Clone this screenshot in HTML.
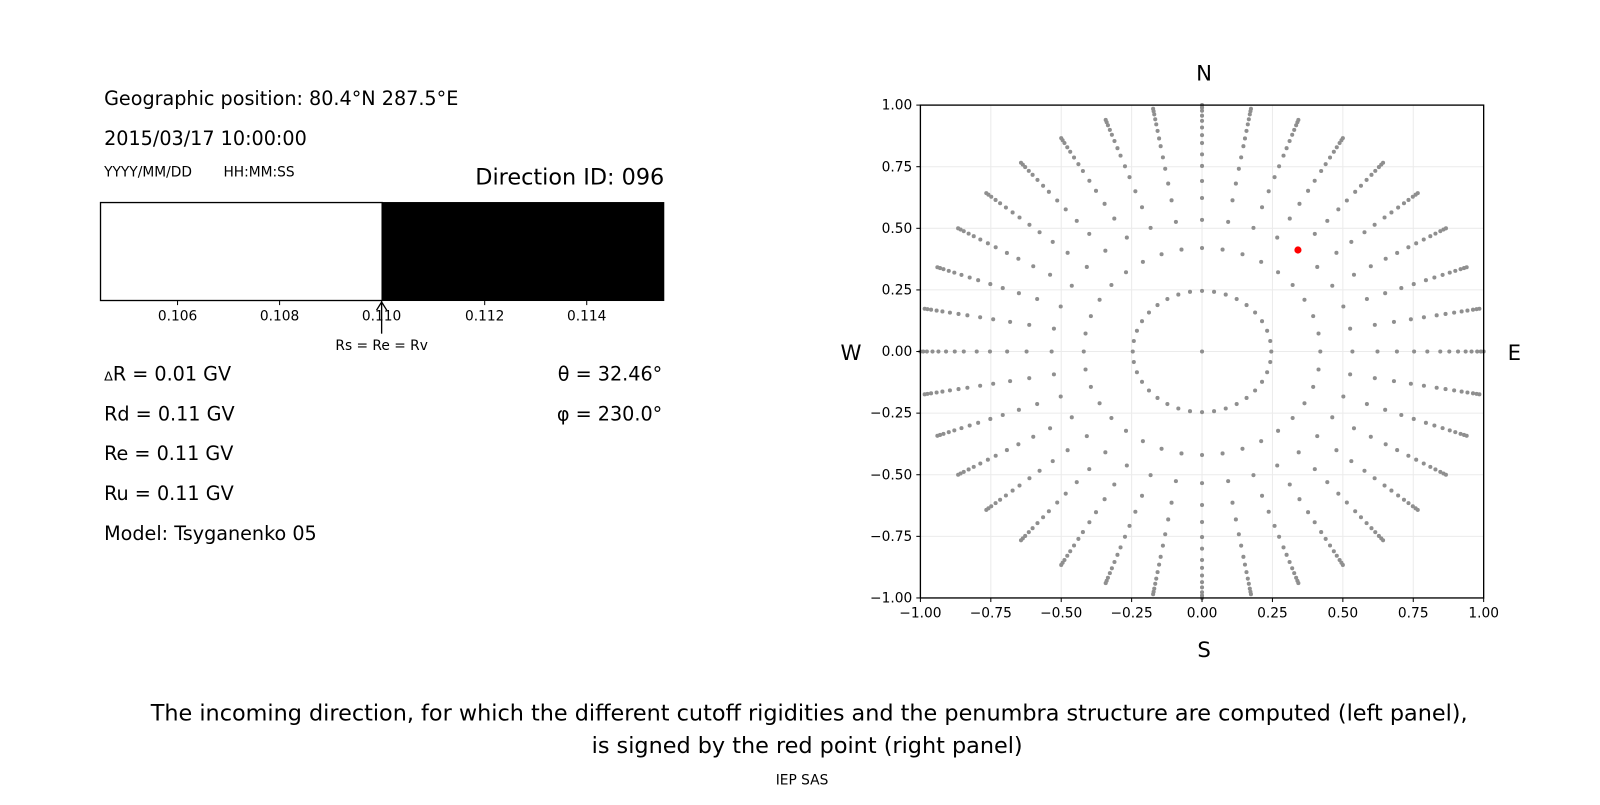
<!DOCTYPE html>
<html><head><meta charset="utf-8"><style>
body{margin:0;background:#fff;}
svg text{font-family:"DejaVu Sans","Liberation Sans",sans-serif;}
</style></head><body>
<svg width="1600" height="800" viewBox="0 0 1600 800" xmlns="http://www.w3.org/2000/svg">
<rect width="1600" height="800" fill="#fff"/>
<g transform="scale(1.0204)">
<text x="102" y="103" font-size="18.8">Geographic position: 80.4°N 287.5°E</text>
<text x="102" y="142" font-size="18.8">2015/03/17 10:00:00</text>
<text x="102" y="173" font-size="13.5">YYYY/MM/DD</text>
<text x="219" y="173" font-size="13.5">HH:MM:SS</text>
<text x="651" y="181" font-size="21.9" text-anchor="end">Direction ID: 096</text>
<rect x="98.5" y="198.5" width="276" height="96" fill="#fff" stroke="#000" stroke-width="1.3"/>
<rect x="374" y="198" width="277" height="97" fill="#000"/>
<g font-size="13.5" text-anchor="middle">
<line x1="174" y1="295" x2="174" y2="299" stroke="#000"/><text x="174" y="314">0.106</text>
<line x1="274" y1="295" x2="274" y2="299" stroke="#000"/><text x="274" y="314">0.108</text>
<line x1="374" y1="295" x2="374" y2="299" stroke="#000"/><text x="374" y="314">0.110</text>
<line x1="475" y1="295" x2="475" y2="299" stroke="#000"/><text x="475" y="314">0.112</text>
<line x1="575" y1="295" x2="575" y2="299" stroke="#000"/><text x="575" y="314">0.114</text>
<text x="374" y="343">Rs = Re = Rv</text>
</g>
<line x1="374" y1="327" x2="374" y2="297" stroke="#000" stroke-width="1.3"/>
<path d="M369,304 L374,296 L379,304" fill="none" stroke="#000" stroke-width="1.3"/>
<g font-size="18.8">
<text x="102" y="373"><tspan font-size="12.5">Δ</tspan>R = 0.01 GV</text>
<text x="102" y="412">Rd = 0.11 GV</text>
<text x="102" y="451">Re = 0.11 GV</text>
<text x="102" y="490">Ru = 0.11 GV</text>
<text x="102" y="529">Model: Tsyganenko 05</text>
<text x="649" y="373" text-anchor="end">θ = 32.46°</text>
<text x="649" y="412" text-anchor="end">φ = 230.0°</text>
</g>
<g id="grid" stroke="#ebebeb" stroke-width="1"></g>
<g id="dots" fill="#8f8f8f"></g>
<circle cx="1272" cy="245" r="3.5" fill="#ff0000"/>
<rect x="902" y="103" width="552" height="483" fill="none" stroke="#000" stroke-width="1.3"/>
<g id="ticks" font-size="13.5"></g>
<g font-size="20.8" text-anchor="middle">
<text x="1180" y="79">N</text>
<text x="1180" y="644">S</text>
<text x="834" y="353">W</text>
<text x="1484" y="353">E</text>
</g>
<g font-size="21.9" text-anchor="middle">
<text x="793" y="706">The incoming direction, for which the different cutoff rigidities and the penumbra structure are computed (left panel),</text>
<text x="791" y="738">is signed by the red point (right panel)</text>
</g>
<text x="786" y="769" font-size="13.5" text-anchor="middle">IEP SAS</text>
</g>
</svg>
<script>
var NS="http://www.w3.org/2000/svg";
function X(v){return 1178+v*276;}function Y(v){return 344.5-v*241.5;}
function el(p,t,a,txt){var e=document.createElementNS(NS,t);for(var k in a)e.setAttribute(k,a[k]);if(txt!==undefined)e.textContent=txt;document.getElementById(p).appendChild(e);}
var tv=[-1,-0.75,-0.5,-0.25,0,0.25,0.5,0.75,1];
var lab=["−1.00","−0.75","−0.50","−0.25","0.00","0.25","0.50","0.75","1.00"];
tv.forEach(function(v,i){
 el("grid","line",{x1:X(v),x2:X(v),y1:103,y2:586});
 el("grid","line",{x1:902,x2:1454,y1:Y(v),y2:Y(v)});
 el("ticks","line",{x1:X(v),x2:X(v),y1:586,y2:590,stroke:"#000"});
 el("ticks","line",{x1:898,x2:902,y1:Y(v),y2:Y(v),stroke:"#000"});
 el("ticks","text",{x:X(v),y:605,"text-anchor":"middle"},lab[i]);
 el("ticks","text",{x:894,y:Y(v)+4.5,"text-anchor":"end"},lab[i]);
});
var R=[0.246,0.42,0.534,0.623,0.692,0.753,0.80,0.846,0.878,0.909,0.936,0.957,0.977,0.99,1.0];
el("dots","circle",{cx:X(0),cy:Y(0),r:2});
for(var k=0;k<36;k++){var a=k*10*Math.PI/180;
 R.forEach(function(r){el("dots","circle",{cx:X(r*Math.sin(a)),cy:Y(r*Math.cos(a)),r:2});});}
</script>
</body></html>
